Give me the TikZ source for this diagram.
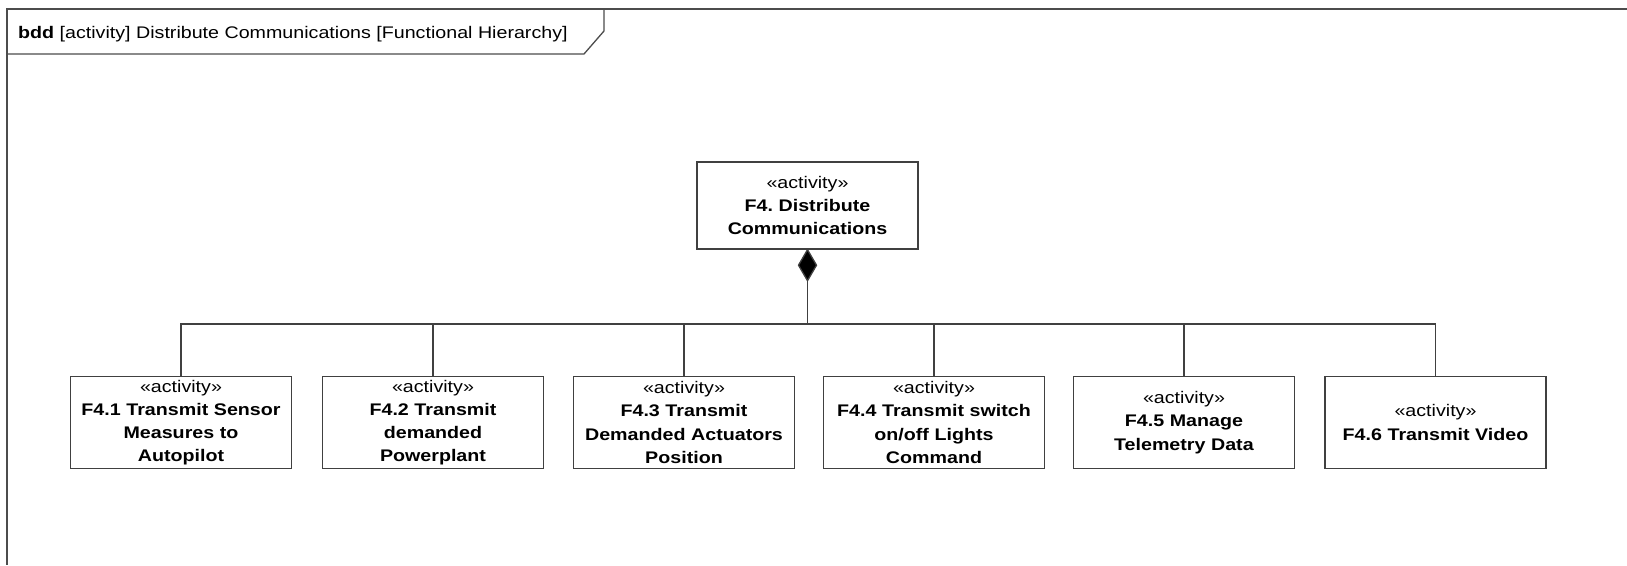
\documentclass[tikz,border=0pt]{standalone}
\usepackage{fontspec}
\setmainfont{Liberation Sans}[FakeStretch=1.17]
\frenchspacing
\begin{document}
\begin{tikzpicture}[x=1pt,y=-1pt,
  framecol/.style={draw=black!70, line width=1.3pt},
  actbox/.style={draw=black!75, line width=1.4pt, fill=white, rectangle,
    minimum width=221pt, minimum height=92pt, inner sep=0pt, text width=215pt,
    align=center, font=\fontsize{16.8}{23.2}\selectfont},
  conn/.style={draw=black!75, line width=1.3pt}]
\useasboundingbox (0,0) rectangle (1627,565);
% frame
\draw[framecol] (1627,9) -- (7,9) -- (7,565);
\draw[framecol] (7,54) -- (584,54) -- (604,31) -- (604,9);
\node[anchor=base west, inner sep=0pt, font=\fontsize{16.8}{20}\selectfont] (title) at (18,38)
  {\textbf{bdd} [activity] Distribute Communications [Functional Hierarchy]};
% top
\node[actbox, minimum height=87pt] (f4) at (807.5,205.5) {«activity»\\\textbf{F4. Distribute}\\\textbf{Communications}};
% children
\node[actbox] (f41) at (181,422.5) {«activity»\\\textbf{F4.1 Transmit Sensor}\\\textbf{Measures to}\\\textbf{Autopilot}};
\node[actbox] (f42) at (433,422.5) {«activity»\\\textbf{F4.2 Transmit}\\\textbf{demanded}\\\textbf{Powerplant}};
\node[actbox] (f43) at (684,422.5) {«activity»\\\textbf{F4.3 Transmit}\\\textbf{Demanded Actuators}\\\textbf{Position}};
\node[actbox] (f44) at (934,422.5) {«activity»\\\textbf{F4.4 Transmit switch}\\\textbf{on/off Lights}\\\textbf{Command}};
\node[actbox] (f45) at (1184,422.5) {«activity»\\\textbf{F4.5 Manage}\\\textbf{Telemetry Data}};
\node[actbox] (f46) at (1435.5,422.5) {«activity»\\\textbf{F4.6 Transmit Video}};
% composition
\coordinate (bus) at (0,324);
\draw[conn, fill=black] (f4.south) -- ++(9,15.5) -- ++(-9,15.5) coordinate (dbot) -- ++(-9,-15.5) -- cycle;
\draw[conn] (dbot) -- (dbot |- bus);
\draw[conn] (f41.north) -- (f41.north |- bus) -- (f46.north |- bus) -- (f46.north);
\foreach \c in {f42,f43,f44,f45} {
  \draw[conn] (\c.north) -- (\c.north |- bus);
}
\end{tikzpicture}
\end{document}
